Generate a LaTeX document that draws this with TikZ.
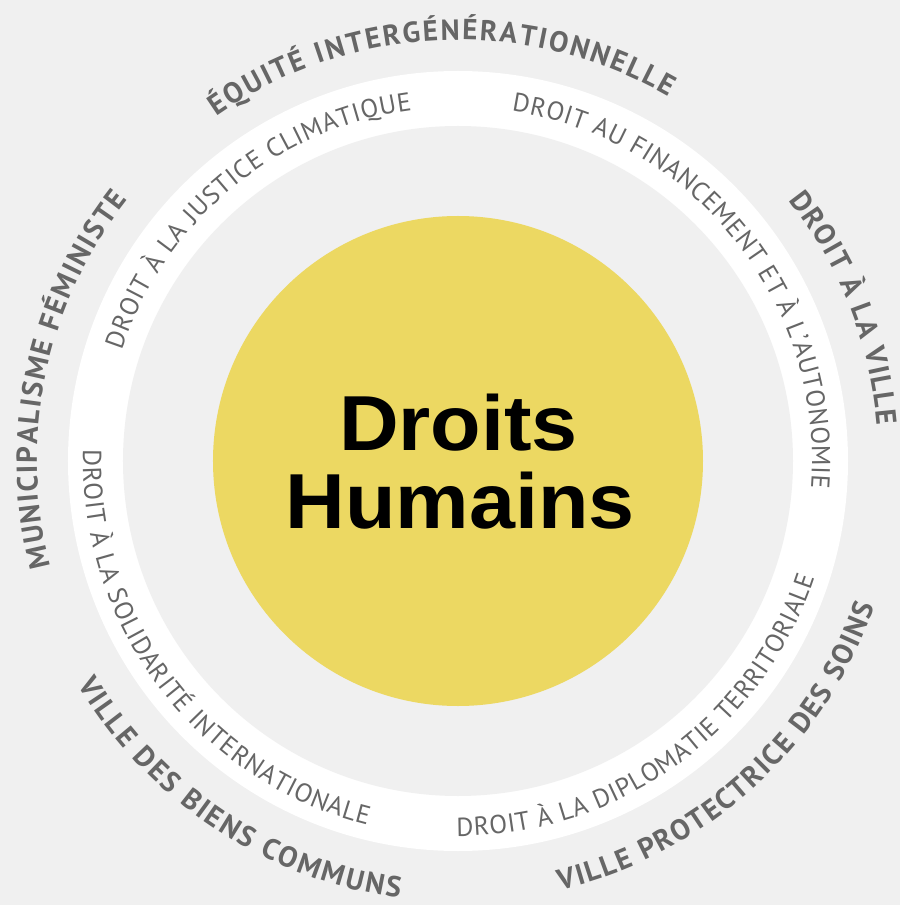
\documentclass[tikz,border=0pt]{standalone}
\usepackage{fontspec}
\setmainfont{PT Sans}
\newfontfamily\titrefont{Liberation Sans}
\usetikzlibrary{decorations.text}

\definecolor{fond}{HTML}{F0F0F0}
\definecolor{jaune}{HTML}{ECD862}
\definecolor{gris}{HTML}{666666}

\tikzset{
  axe/.style={decorate, decoration={text along path,
      text={|\bfseries\fontsize{29}{29}\selectfont|#1},
      text align={fit to path}, text color=gris}},
  droit/.style={decorate, decoration={text along path,
      text={|\fontsize{26}{26}\selectfont|#1},
      text align={fit to path}, text color=gris}},
  titre/.style={font=\titrefont\bfseries\fontsize{78}{78}\selectfont,
      anchor=base, inner sep=0pt, xscale=1.06}
}

\begin{document}
\begin{tikzpicture}

  \newcommand\Rext{390pt};
  \newcommand\Rint{335pt};
  \newcommand\Rsol{245pt};
  % rayons des lignes de base
  \newcommand\Ahaut{421pt};
  \newcommand\Abas{441pt};
  \newcommand\Dhaut{354pt};
  \newcommand\Dbas{375pt};

  \fill[fond] (-458pt,-444pt) rectangle (442pt,461pt);
  \useasboundingbox (-458pt,-444pt) rectangle (442pt,461pt);

  \fill[white] (0,0) circle[radius=\Rext];
  \fill[fond]  (0,0) circle[radius=\Rint];
  \fill[jaune] (0,0) circle[radius=\Rsol];

  \node[titre] (droits)  at (0.5pt, 11pt) {Droits};
  \node[titre] (humains) at (2pt, -67pt) {Humains};

% cercle exterieur
  \path[axe={ÉQUITÉ INTERGÉNÉRATIONNELLE}]
  (125:\Ahaut) arc[start angle=125, end angle=60, radius=\Ahaut];
  \path[axe={DROIT À LA VILLE}]
  (38.3:\Ahaut) arc[start angle=38.3, end angle=4.9, radius=\Ahaut];
  \path[axe={VILLE PROTECTRICE DES SOINS}]
  (283.4:\Abas) arc[start angle=283.4, end angle=340.8, radius=\Abas];
  \path[axe={VILLE DES BIENS COMMUNS}]
  (210.4:\Abas) arc[start angle=210.4, end angle=262.4, radius=\Abas];
  \path[axe={MUNICIPALISME FÉMINISTE}]
  (194.5:\Ahaut) arc[start angle=194.5, end angle=141.7, radius=\Ahaut];

% anneau blanc
  \path[droit={DROIT À LA JUSTICE CLIMATIQUE}]
  (161.8:\Dhaut) arc[start angle=161.8, end angle=97.5, radius=\Dhaut];
  \path[droit={DROIT AU FINANCEMENT ET À L'AUTONOMIE}]
  (81.3:\Dhaut) arc[start angle=81.3, end angle=-4.4, radius=\Dhaut];
  \path[droit={DROIT À LA DIPLOMATIE TERRITORIALE}]
  (269.8:\Dbas) arc[start angle=269.8, end angle=341.9, radius=\Dbas];
  \path[droit={DROIT À LA SOLIDARITÉ INTERNATIONALE}]
  (178.3:\Dbas) arc[start angle=178.3, end angle=256, radius=\Dbas];

\end{tikzpicture}
\end{document}
